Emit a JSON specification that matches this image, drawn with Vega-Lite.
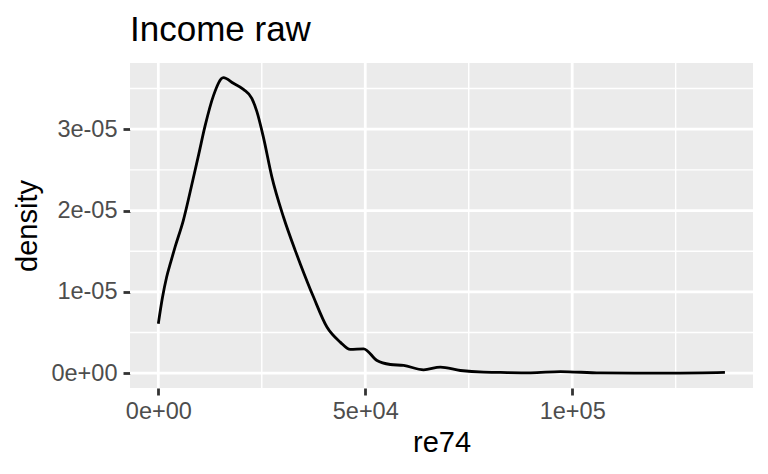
{
  "$schema": "https://vega.github.io/schema/vega-lite/v6.json",
  "width": 623,
  "height": 325,
  "autosize": {"type": "none"},
  "padding": {"left": 130, "top": 63, "right": 15, "bottom": 86},
  "background": "white",
  "title": {"text": "Income raw", "anchor": "start", "frame": "group", "font": "Liberation Sans", "fontSize": 35, "fontWeight": "normal", "color": "black", "offset": 14},
  "config": {
    "view": {"fill": "#EBEBEB", "stroke": null},
    "axis": {"grid": false, "domain": false, "tickColor": "#333333", "tickWidth": 2.8, "tickSize": 7, "labelColor": "#4D4D4D", "labelFont": "Liberation Sans", "labelFontSize": 23.5, "titleFont": "Liberation Sans", "titleFontSize": 29, "titleFontWeight": "normal", "titleColor": "black"}
  },
  "datasets": {
    "curve": [
      {"re74": 0, "density": 6.08e-6},
      {"re74": 1000, "density": 9.3e-6},
      {"re74": 2000, "density": 1.18e-5},
      {"re74": 3000, "density": 1.367e-5},
      {"re74": 4040, "density": 1.55e-5},
      {"re74": 6048, "density": 1.88e-5},
      {"re74": 8322, "density": 2.37e-5},
      {"re74": 9800, "density": 2.7e-5},
      {"re74": 11297, "density": 3.04e-5},
      {"re74": 13305, "density": 3.41e-5},
      {"re74": 15724, "density": 3.633e-5},
      {"re74": 18144, "density": 3.564e-5},
      {"re74": 20562, "density": 3.49e-5},
      {"re74": 22590, "density": 3.38e-5},
      {"re74": 23800, "density": 3.22e-5},
      {"re74": 25400, "density": 2.9e-5},
      {"re74": 27430, "density": 2.414e-5},
      {"re74": 30240, "density": 1.92e-5},
      {"re74": 33070, "density": 1.51e-5},
      {"re74": 34280, "density": 1.347e-5},
      {"re74": 37500, "density": 9.36e-6},
      {"re74": 40740, "density": 5.67e-6},
      {"re74": 43950, "density": 3.82e-6},
      {"re74": 46370, "density": 2.92e-6},
      {"re74": 49600, "density": 3.0e-6},
      {"re74": 52830, "density": 1.56e-6},
      {"re74": 56050, "density": 1.07e-6},
      {"re74": 59270, "density": 9.5e-7},
      {"re74": 64100, "density": 4.2e-7},
      {"re74": 68140, "density": 7.4e-7},
      {"re74": 72980, "density": 3.3e-7},
      {"re74": 78620, "density": 1.2e-7},
      {"re74": 82650, "density": 9e-8},
      {"re74": 90000, "density": 5e-8},
      {"re74": 97170, "density": 2e-7},
      {"re74": 106800, "density": 3e-8},
      {"re74": 115000, "density": 2e-8},
      {"re74": 125000, "density": 2e-8},
      {"re74": 136900, "density": 1e-7}
    ],
    "xminor": [{"v": 25000}, {"v": 75000}, {"v": 125000}],
    "xmajor": [{"v": 0}, {"v": 50000}, {"v": 100000}],
    "yminor": [{"v": 5e-6}, {"v": 1.5e-5}, {"v": 2.5e-5}, {"v": 3.5e-5}],
    "ymajor": [{"v": 0}, {"v": 1e-5}, {"v": 2e-5}, {"v": 3e-5}]
  },
  "layer": [
    {"data": {"name": "xminor"}, "mark": {"type": "rule", "color": "white", "strokeWidth": 1.4},
     "encoding": {"x": {"field": "v", "type": "quantitative", "title": "re74", "scale": {"domain": [-6842, 143682], "nice": false, "zero": false}}}},
    {"data": {"name": "yminor"}, "mark": {"type": "rule", "color": "white", "strokeWidth": 1.4},
     "encoding": {"y": {"field": "v", "type": "quantitative", "title": "density", "scale": {"domain": [-1.82e-6, 3.814e-5], "nice": false, "zero": false}}}},
    {"data": {"name": "xmajor"}, "mark": {"type": "rule", "color": "white", "strokeWidth": 2.8},
     "encoding": {"x": {"field": "v", "type": "quantitative", "title": "re74"}}},
    {"data": {"name": "ymajor"}, "mark": {"type": "rule", "color": "white", "strokeWidth": 2.8},
     "encoding": {"y": {"field": "v", "type": "quantitative", "title": "density"}}},
    {"data": {"name": "curve"}, "mark": {"type": "line", "color": "black", "strokeWidth": 2.8, "interpolate": "monotone"},
     "encoding": {
       "x": {"field": "re74", "type": "quantitative", "title": "re74", "axis": {"values": [0, 50000, 100000], "labelExpr": "datum.value == 0 ? '0e+00' : datum.value == 50000 ? '5e+04' : '1e+05'", "labelPadding": 4, "titlePadding": 6}},
       "y": {"field": "density", "type": "quantitative", "title": "density", "axis": {"values": [0, 1e-5, 2e-5, 3e-5], "labelExpr": "datum.value == 0 ? '0e+00' : datum.value < 1.5e-5 ? '1e-05' : datum.value < 2.5e-5 ? '2e-05' : '3e-05'", "labelPadding": 6, "titlePadding": 8}}
     }}
  ]
}
